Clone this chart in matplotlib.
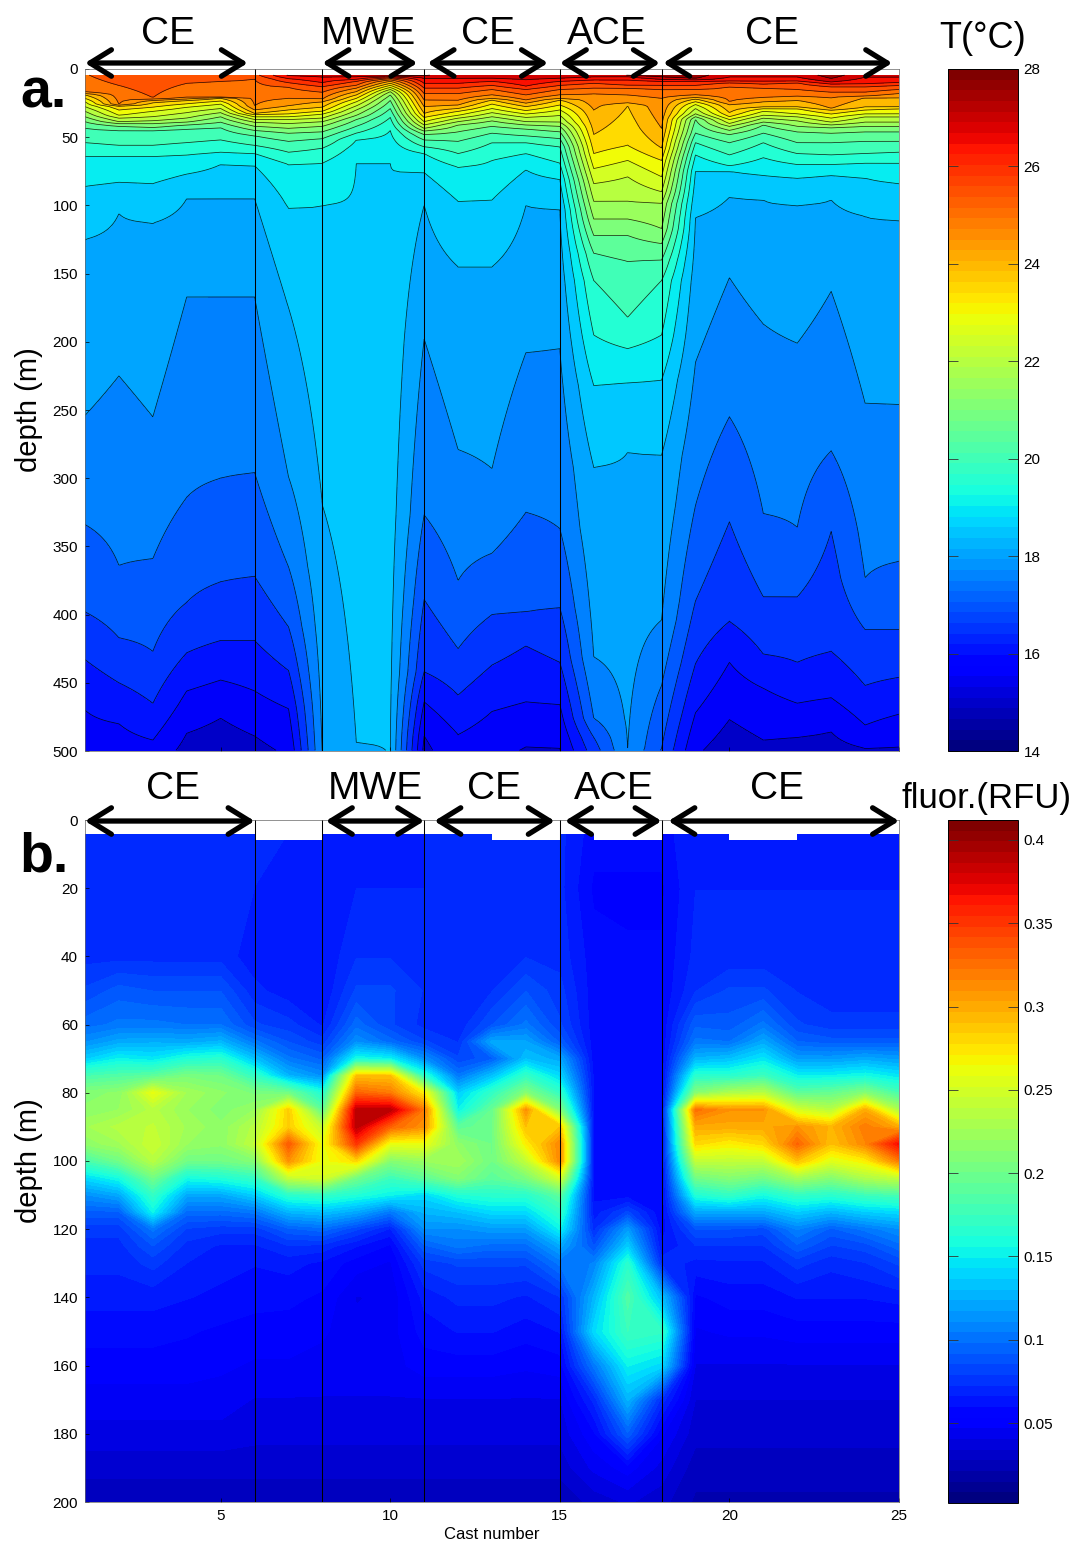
import numpy as np
import matplotlib
matplotlib.use("Agg")
import matplotlib.pyplot as plt
from matplotlib.cm import ScalarMappable
from matplotlib.colors import Normalize

plt.rcParams['font.family'] = ['Liberation Sans', 'DejaVu Sans']

casts = list(range(1, 26))
stations = [6, 8, 11, 15, 18]

# panel a: depth of each isotherm at casts 1..25
iso_levels = [15.25, 15.75, 16.25, 16.75, 17.25, 17.75, 18.25, 18.75, 19.25, 19.75, 20.25, 20.75, 21.25,
              21.75, 22.25, 22.75, 23.25, 23.75, 24.25, 24.75, 25.25, 25.75, 26.25, 26.75, 27.25]
iso_depths = [
    [540, 530, 515, 487, 476, 489, 505, 610, 720, 760, 489, 540, 510, 497, 498, 570, 600, 600, 505, 477, 492, 490, 486, 498, 497],
    [470, 480, 492, 456, 448, 456, 469, 590, 700, 740, 464, 488, 471, 464, 466, 540, 580, 560, 472, 435, 454, 465, 461, 481, 473],
    [433, 450, 465, 428, 419, 419, 441, 570, 680, 720, 442, 459, 437, 423, 435, 510, 560, 520, 436, 405, 429, 435, 427, 452, 446],
    [398, 417, 427, 391, 376, 372, 409, 550, 650, 700, 389, 425, 400, 398, 395, 490, 545, 498, 390, 332, 387, 387, 339, 411, 411],
    [334, 364, 359, 314, 300, 296, 365, 530, 620, 680, 327, 375, 355, 325, 337, 476, 530, 452, 320, 255, 326, 336, 280, 373, 361],
    [254, 225, 255, 167, 167, 167, 299, 510, 560, 620, 198, 279, 293, 208, 205, 431, 498, 404, 215, 153, 187, 201, 163, 245, 246],
    [125, 106, 113, 95, 95, 95, 175, 320, 494, 505, 100, 145, 145, 100, 103, 292, 281, 283, 109, 94, 96, 100, 96, 108, 111],
    [86, 83, 84, 77, 70, 71, 102, 100, 69, 69, 76, 97, 96, 74, 81, 232, 230, 228, 75, 75, 78, 80, 78, 80, 84],
    [64, 64, 64, 63, 61, 62, 70, 69, 52, 45, 62, 72, 67, 62, 69, 195, 205, 195, 63, 71, 65, 70, 70, 69, 69],
    [54, 56, 56, 54, 52, 56, 61, 58, 47, 35.5, 57, 62, 54, 54, 57, 155, 182, 155, 54, 63, 54, 62, 63, 62, 61],
    [43.5, 45, 45, 44, 43, 49, 53, 51, 42, 29, 52, 53, 47, 49, 51, 135, 141, 140, 47, 54, 47, 54, 54, 53, 53],
    [38.6, 42, 43, 41, 39, 45, 47, 46, 37, 23, 48, 46, 42, 44, 46, 122, 122, 128, 37, 48, 41, 46, 47, 46, 46],
    [35, 40, 40, 39, 35, 42, 43.5, 42, 34, 19, 45.5, 41, 38, 41, 42, 110, 110, 117, 35, 45, 39, 42, 43, 42, 42],
    [31, 38.6, 38, 36, 32, 39, 40, 38.6, 30, 16.6, 43.5, 38.6, 35, 38.6, 39, 97, 97, 98.5, 33, 42, 36, 38, 41, 39, 39],
    [27.6, 36, 35, 32, 29, 37, 37, 36, 27, 15, 41, 36, 32, 35.5, 34, 84, 79, 90, 29, 40, 34, 35, 39, 35, 35],
    [24, 34, 31, 28, 25.7, 35, 35, 33, 24, 13.5, 38.6, 34, 29, 33, 30, 73, 67, 79, 26, 37, 31, 33, 36, 33, 33],
    [21.5, 30, 28, 25.5, 23.5, 33.5, 33, 31, 21.5, 12, 35.5, 31, 25.7, 30.5, 26.4, 62, 56, 67, 24, 35, 29, 29, 33, 30, 29],
    [19, 27, 24.7, 23, 21.5, 32.5, 30, 28, 19, 10.5, 32.5, 29, 22.7, 27.6, 22.7, 48, 27, 58, 22, 32, 28, 28, 30, 28, 28],
    [18, 26.5, 23, 22, 21, 30, 27, 24, 16.6, 9, 27.6, 26.4, 21.5, 25, 21.5, 30, 25, 43.5, 21, 26, 24, 23, 29, 21, 21],
    [17, 26, 22, 21, 20.5, 27, 21.5, 22, 14, 8, 22.7, 23, 19, 22.7, 19, 18, 19, 21.5, 19, 24, 21, 20, 21, 20, 18],
    [3, 12, 21, 10.5, 9, 7.5, 13.5, 17, 12, 7, 18, 18, 15, 19, 15, 14, 14, 15, 15, 13, 14, 15, 17, 17, 15],
    [2, 2, 2, 2, 2, 3, 10, 13, 9, 6.4, 14, 14, 12, 15, 12, 10.5, 12, 12, 12, 10, 11, 10, 13, 13, 12],
    [1.5, 1.5, 1.5, 1.5, 1.5, 1.5, 7, 10, 7.5, 5.6, 10.5, 10.5, 9, 12.5, 9, 8, 8, 9, 9, 9, 9, 9, 11, 11, 10],
    [1, 1, 1, 1, 1, 1, 5, 6, 6, 5, 6.8, 7, 7, 8, 7, 6, 5.6, 7.6, 8, 6, 6, 6, 9.5, 6, 6],
    [0.5, 0.5, 0.5, 0.5, 0.5, 0.5, 0.5, 0.5, 0.5, 4.6, 5, 0.5, 0.5, 0.5, 0.5, 0.5, 4.6, 6, 7, 0.5, 0.5, 0.5, 7, 0.5, 0.5],
]

# panel b: fluorescence profile of each cast at these depths
fluor_depth = [4, 20, 40, 50, 60, 65, 70, 75, 80, 85, 90, 95, 100, 105, 110, 115, 120, 125, 130, 140, 150, 160, 170, 180, 190, 200]
fluor = [
    [.068, .072, .07, .08, .095, .11, .135, .18, .21, .215, .225, .215, .18, .14, .11, .09, .075, .07, .068, .062, .056, .05, .044, .038, .03, .022],
    [.068, .072, .07, .088, .10, .12, .15, .185, .215, .22, .235, .225, .20, .155, .12, .09, .075, .07, .068, .062, .056, .05, .044, .038, .03, .022],
    [.068, .072, .07, .085, .10, .122, .145, .19, .26, .235, .24, .245, .235, .20, .17, .15, .10, .085, .075, .062, .056, .05, .044, .038, .03, .022],
    [.068, .072, .07, .085, .098, .12, .16, .205, .225, .22, .225, .22, .20, .155, .12, .095, .078, .07, .066, .06, .054, .05, .044, .038, .03, .022],
    [.068, .072, .07, .085, .098, .125, .165, .20, .215, .21, .215, .215, .20, .16, .12, .095, .075, .065, .062, .058, .052, .048, .044, .038, .03, .022],
    [.068, .066, .062, .068, .08, .10, .13, .17, .205, .22, .235, .24, .21, .17, .135, .10, .075, .065, .06, .056, .05, .046, .04, .036, .03, .022],
    [.066, .064, .06, .062, .075, .085, .10, .125, .20, .285, .285, .335, .31, .24, .165, .125, .09, .072, .062, .055, .05, .046, .04, .036, .03, .022],
    [.066, .064, .06, .06, .065, .075, .09, .11, .16, .19, .24, .26, .26, .25, .17, .13, .095, .07, .058, .052, .048, .044, .04, .036, .03, .022],
    [.066, .066, .072, .08, .095, .11, .155, .29, .33, .39, .39, .35, .28, .20, .16, .12, .08, .06, .05, .04, .042, .044, .04, .036, .03, .022],
    [.066, .066, .072, .08, .08, .095, .15, .29, .32, .39, .33, .26, .21, .175, .15, .10, .065, .052, .046, .042, .044, .044, .04, .036, .03, .022],
    [.066, .066, .072, .072, .07, .08, .11, .165, .27, .32, .31, .26, .22, .19, .14, .125, .11, .09, .075, .062, .056, .05, .04, .036, .03, .022],
    [.068, .068, .072, .07, .068, .072, .08, .10, .135, .15, .19, .215, .225, .21, .16, .13, .11, .10, .08, .068, .06, .05, .04, .036, .03, .022],
    [.068, .068, .072, .072, .085, .12, .09, .13, .17, .195, .20, .20, .20, .19, .165, .14, .115, .095, .08, .068, .06, .05, .04, .036, .03, .022],
    [.068, .068, .072, .085, .10, .118, .13, .17, .21, .31, .29, .27, .24, .205, .165, .14, .115, .095, .08, .065, .056, .048, .04, .036, .03, .022],
    [.068, .068, .07, .075, .08, .09, .12, .14, .17, .21, .29, .315, .315, .25, .19, .17, .15, .12, .10, .072, .06, .05, .04, .036, .03, .022],
    [.056, .052, .056, .056, .056, .056, .056, .058, .058, .058, .058, .058, .058, .058, .058, .062, .07, .085, .105, .125, .14, .10, .068, .052, .042, .03],
    [.056, .052, .054, .054, .054, .054, .054, .054, .054, .054, .054, .054, .054, .054, .056, .08, .115, .135, .165, .185, .175, .15, .125, .09, .05, .035],
    [.056, .052, .054, .054, .054, .054, .054, .054, .054, .054, .054, .054, .054, .054, .054, .054, .056, .06, .07, .13, .17, .14, .07, .048, .038, .03],
    [.066, .066, .068, .072, .09, .10, .125, .165, .21, .325, .30, .28, .24, .20, .16, .12, .085, .072, .064, .052, .046, .04, .034, .03, .024, .02],
    [.066, .066, .068, .08, .088, .098, .13, .165, .23, .31, .30, .27, .24, .21, .17, .12, .085, .072, .065, .056, .048, .04, .034, .03, .024, .02],
    [.066, .066, .068, .08, .10, .12, .145, .175, .235, .31, .30, .28, .24, .20, .155, .12, .082, .072, .065, .056, .048, .04, .034, .03, .024, .02],
    [.066, .066, .068, .072, .08, .092, .115, .15, .19, .25, .31, .33, .29, .225, .17, .135, .105, .09, .075, .06, .05, .04, .034, .03, .024, .02],
    [.066, .066, .068, .068, .075, .088, .115, .15, .195, .235, .295, .29, .255, .21, .165, .125, .09, .078, .068, .06, .05, .04, .034, .03, .024, .02],
    [.066, .066, .068, .068, .075, .088, .12, .155, .21, .30, .32, .315, .27, .23, .175, .135, .10, .082, .072, .06, .05, .04, .034, .03, .024, .02],
    [.066, .066, .068, .068, .075, .088, .115, .145, .18, .23, .30, .37, .32, .24, .18, .14, .11, .095, .08, .062, .05, .04, .034, .03, .024, .02],
]
fluor_top = [4, 4, 4, 4, 4, 6, 6, 4, 4, 4, 4, 4, 6, 6, 4, 6, 6, 4, 4, 6, 6, 4, 4, 4, 4]

# eddy labels, arrows given in cast number
eddy_names = ["CE", "MWE", "CE", "ACE", "CE"]
eddy_a = [(1, 5.8), (8, 10.8), (11.1, 14.65), (15, 17.95), (18.05, 24.8)]
eddy_a_text = [3.44, 9.35, 12.88, 16.4, 21.25]
eddy_b = [(1, 6), (8.1, 11), (11.3, 14.85), (15.15, 18), (18.2, 25)]
eddy_b_text = [3.6, 9.55, 13.05, 16.6, 21.4]

W, H = 1074, 1542


def box(left, top, right, bottom):
    return [left / W, 1 - bottom / H, (right - left) / W, (bottom - top) / H]


def eddy_marks(ax, spans, centers, y_arrow, y_text):
    for name, (x0, x1), xc in zip(eddy_names, spans, centers):
        ax.annotate("", xy=(x1, y_arrow), xytext=(x0, y_arrow), xycoords=("data", "axes fraction"),
                    annotation_clip=False,
                    arrowprops=dict(arrowstyle="<->,head_length=0.55,head_width=0.34", lw=3.8, color="k",
                                    shrinkA=0, shrinkB=0, mutation_scale=28))
        ax.text(xc, y_text, name, transform=ax.get_xaxis_transform(), ha="center", va="center",
                fontsize=28, clip_on=False)


def bar(fig, pos, vmin, vmax, ticks, labels):
    cax = fig.add_axes(pos)
    sm = ScalarMappable(Normalize(vmin, vmax), plt.get_cmap("jet", 64))
    cb = fig.colorbar(sm, cax=cax)
    cb.set_ticks(ticks, labels=labels)
    cb.ax.tick_params(direction="in", length=7, width=0.6, labelsize=11, left=True, right=True, pad=4, color="#333333")
    cb.outline.set_linewidth(0.7)


fig = plt.figure(figsize=(W / 100, H / 100), dpi=100)

# a. temperature
ax1 = fig.add_axes(box(85, 69, 899, 751))
grid = np.arange(4.5, 500.5, 1.0)
depths = np.array(iso_depths, dtype=float)
temp = np.zeros((len(grid), len(casts)))
for i in range(len(casts)):
    d = np.concatenate(([-1.0], depths[::-1, i], [depths[0, i] + 60.0]))
    t = np.concatenate(([28.0], iso_levels[::-1], [14.5]))
    temp[:, i] = np.interp(grid, d, t)
fill_levels = [14.5] + iso_levels + [28.0]
ax1.contourf(casts, grid, temp, levels=fill_levels, cmap="jet", norm=Normalize(14, 28))
ax1.contour(casts, grid, temp, levels=iso_levels, colors="k", linewidths=0.55, alpha=0.8)
for c in stations:
    ax1.axvline(c, color="k", lw=0.75)
ax1.set_xlim(1, 25)
ax1.set_ylim(500, 0)
ax1.set_yticks(range(0, 501, 50))
ax1.set_xticks([5, 10, 15, 20, 25])
ax1.set_xticklabels([])
ax1.tick_params(direction="in", length=3, width=0.5, labelsize=11, pad=5)
ax1.set_ylabel("depth (m)", fontsize=21, labelpad=7)
for s in ax1.spines.values():
    s.set_linewidth(0.5)
    s.set_color("#666666")
eddy_marks(ax1, eddy_a, eddy_a_text, 1.0088, 1.0519)

# b. fluorescence
ax2 = fig.add_axes(box(85, 820, 899, 1502))
flu = np.array(fluor).T
ax2.contourf(casts, fluor_depth, flu, levels=np.linspace(0.002, 0.412, 65), cmap="jet", extend="both")
ax2.fill_between(casts, 0, fluor_top, step="post", color="white", lw=0)
for c in stations:
    ax2.axvline(c, color="k", lw=0.75)
ax2.set_xlim(1, 25)
ax2.set_ylim(200, 0)
ax2.set_yticks(range(0, 201, 20))
ax2.set_xticks([5, 10, 15, 20, 25])
ax2.tick_params(direction="in", length=3, width=0.5, labelsize=11, pad=5)
ax2.set_ylabel("depth (m)", fontsize=21, labelpad=7)
ax2.set_xlabel("Cast number", fontsize=12, labelpad=3)
for s in ax2.spines.values():
    s.set_linewidth(0.5)
    s.set_color("#666666")
eddy_marks(ax2, eddy_b, eddy_b_text, 0.9985, 1.0455)

# colour bars
bar(fig, box(948, 69, 1018, 751), 14, 28, range(14, 29, 2), [str(v) for v in range(14, 29, 2)])
fl_ticks = [0.05, 0.1, 0.15, 0.2, 0.25, 0.3, 0.35, 0.4]
bar(fig, box(948, 820, 1018, 1503), 0.002, 0.412, fl_ticks, ["0.05", "0.1", "0.15", "0.2", "0.25", "0.3", "0.35", "0.4"])

fig.text(983 / W, 1 - 38 / H, "T(°C)", fontsize=26, ha="center", va="center")
fig.text(986 / W, 1 - 798 / H, "fluor.(RFU)", fontsize=25, ha="center", va="center")
fig.text(44 / W, 1 - 94 / H, "a.", fontsize=40, fontweight="bold", ha="center", va="center")
fig.text(44 / W, 1 - 857 / H, "b.", fontsize=40, fontweight="bold", ha="center", va="center")

fig.savefig("out.png", dpi=100)
